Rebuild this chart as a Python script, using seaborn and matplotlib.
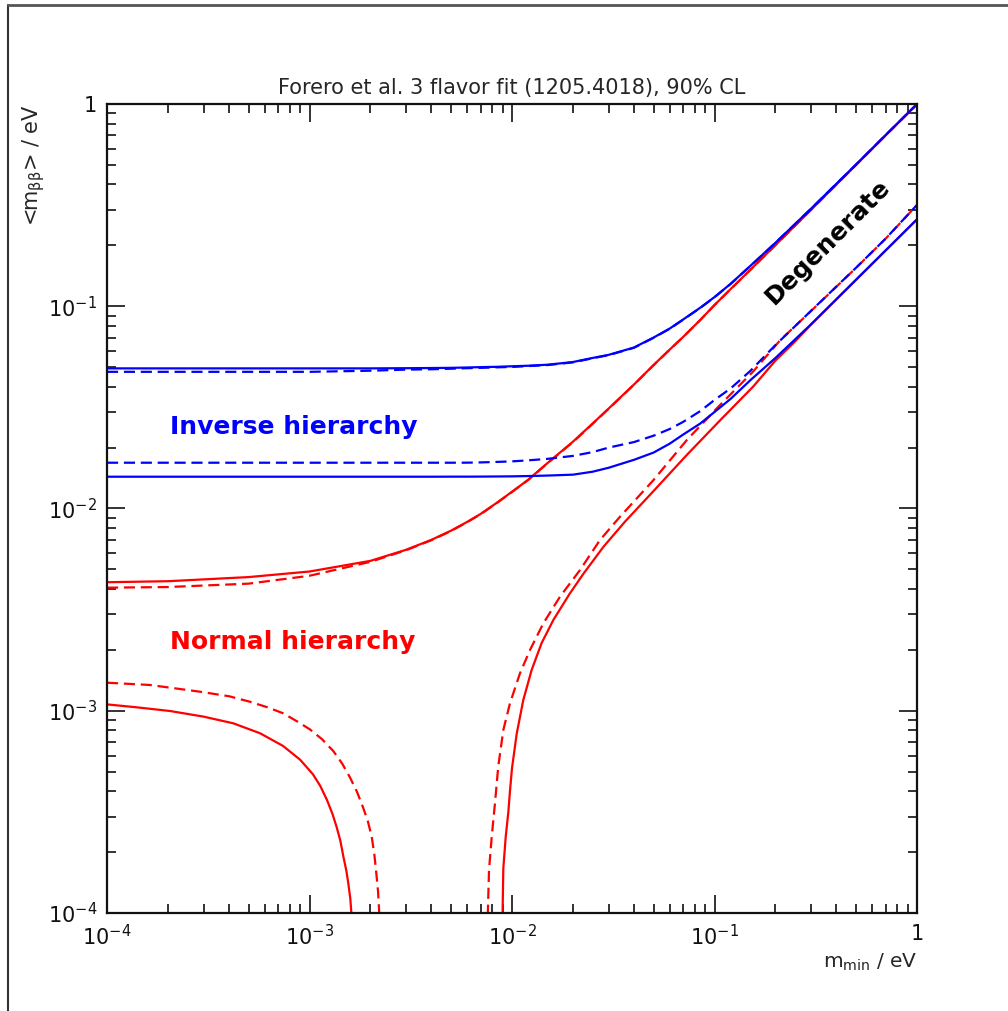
import numpy as np
import pandas as pd
import matplotlib
matplotlib.use("Agg")
import matplotlib.pyplot as plt
from matplotlib.lines import Line2D
from matplotlib.ticker import LogLocator, FuncFormatter, NullFormatter
import seaborn as sns

sns.set_style("white")
plt.rcParams['font.family'] = ['DejaVu Sans']
plt.rcParams['mathtext.default'] = 'regular'

# lightest neutrino mass grid (eV) used by the hierarchy envelopes
m_grid = [1e-4, 2e-4, 5e-4, 1e-3, 2e-3, 3e-3, 4e-3, 5e-3, 6e-3, 7e-3, 8.5e-3, 1e-2, 1.2e-2, 1.5e-2,
          2e-2, 2.5e-2, 3e-2, 4e-2, 5e-2, 6e-2, 7e-2, 8.5e-2, 0.1, 0.12, 0.15, 0.2, 0.3, 0.5, 0.7, 1.0]

# inverse hierarchy, upper / lower edge (solid and dashed)
ih_max_solid = [0.0493, 0.0493, 0.0493, 0.0493, 0.0493, 0.0494, 0.0495, 0.0496, 0.0498, 0.0500, 0.0502,
                0.0505, 0.0508, 0.0514, 0.0530, 0.0555, 0.0575, 0.0625, 0.0700, 0.0775, 0.0860, 0.0983,
                0.111, 0.129, 0.158, 0.206, 0.304, 0.502, 0.702, 1.0]
ih_max_dash = [0.0474, 0.0474, 0.0474, 0.0474, 0.0480, 0.0486, 0.0488, 0.0491, 0.0494, 0.0496, 0.0499,
               0.0501, 0.0506, 0.0512, 0.0528, 0.0553, 0.0573, 0.0623, 0.0698, 0.0773, 0.0858, 0.0981,
               0.1108, 0.1288, 0.1578, 0.2058, 0.3038, 0.5018, 0.7018, 0.998]
ih_min_solid = [0.01436, 0.01436, 0.01436, 0.01436, 0.01436, 0.01436, 0.01436, 0.01437, 0.01437, 0.01438,
                0.0144, 0.01442, 0.01447, 0.01455, 0.0147, 0.0152, 0.0159, 0.0174, 0.0189, 0.0209, 0.0232,
                0.0263, 0.0300, 0.0348, 0.0430, 0.0555, 0.0815, 0.1353, 0.1889, 0.2691]
ih_min_dash = [0.01684, 0.01684, 0.01684, 0.01684, 0.01684, 0.01684, 0.01684, 0.01684, 0.01685, 0.0169,
               0.0170, 0.0171, 0.0173, 0.0176, 0.0182, 0.0190, 0.0200, 0.0213, 0.0229, 0.0247, 0.0268,
               0.0303, 0.0344, 0.0392, 0.0478, 0.0643, 0.095, 0.155, 0.216, 0.317]

# normal hierarchy, upper edge
nh_max_solid = [0.00432, 0.00437, 0.00458, 0.00488, 0.00551, 0.00625, 0.00700, 0.00777, 0.00858, 0.00940,
                0.01075, 0.0121, 0.01385, 0.0168, 0.0214, 0.0263, 0.0312, 0.0410, 0.0512, 0.0610, 0.0705,
                0.0855, 0.1014, 0.1215, 0.1511, 0.2008, 0.300, 0.500, 0.700, 0.998]
nh_max_dash = [0.00406, 0.00409, 0.00425, 0.00465, 0.00545, 0.00622, 0.00697, 0.00774, 0.00855, 0.00937,
               0.01072, 0.01207, 0.01382, 0.01677, 0.0213, 0.0262, 0.0311, 0.0409, 0.0511, 0.0609, 0.0704,
               0.0854, 0.1013, 0.1213, 0.151, 0.2006, 0.2998, 0.4998, 0.6998, 0.997]

# normal hierarchy, lower edge: left branch (falls to zero) and right branch (rises)
nh_min_solid_lo_m = [1e-4, 1.4e-4, 2.05e-4, 3e-4, 4.2e-4, 5.7e-4, 7.4e-4, 9e-4, 1.04e-3, 1.13e-3, 1.22e-3,
                     1.3e-3, 1.36e-3, 1.42e-3, 1.47e-3, 1.52e-3, 1.555e-3, 1.59e-3, 1.61e-3, 1.625e-3]
nh_min_solid_lo = [0.001075, 0.00104, 0.000997, 0.000935, 0.000867, 0.000774, 0.00067, 0.000572, 0.000485,
                   0.000425, 0.000362, 0.000308, 0.000267, 0.000228, 0.00019, 0.000162, 0.00014, 0.000118,
                   0.0001, 0.00008]
nh_min_solid_hi_m = [8.95e-3, 9.06e-3, 9.31e-3, 9.59e-3, 9.77e-3, 1.0e-2, 1.055e-2, 1.137e-2, 1.25e-2, 1.40e-2,
                     1.60e-2, 1.93e-2, 2.25e-2, 2.83e-2, 3.61e-2, 5.0e-2, 7.3e-2, 0.107, 0.155, 0.2, 0.245,
                     0.3, 0.5, 0.7, 1.0]
nh_min_solid_hi = [0.00008, 0.000166, 0.000238, 0.000315, 0.00040, 0.00052, 0.00077, 0.00113, 0.00159, 0.00216,
                   0.00281, 0.0038, 0.00475, 0.00647, 0.0086, 0.0122, 0.0184, 0.0274, 0.0400, 0.0539, 0.0656,
                   0.0812, 0.1350, 0.1886, 0.2688]
nh_min_dash_lo_m = [1e-4, 1.63e-4, 2.88e-4, 4e-4, 5.08e-4, 6.2e-4, 7.42e-4, 8.7e-4, 1.006e-3, 1.15e-3,
                    1.311e-3, 1.45e-3, 1.585e-3, 1.72e-3, 1.844e-3, 1.94e-3, 2.029e-3, 2.09e-3, 2.13e-3,
                    2.18e-3, 2.21e-3, 2.235e-3]
nh_min_dash_lo = [0.001376, 0.001341, 0.001242, 0.00118, 0.001108, 0.00104, 0.000971, 0.000885, 0.000808,
                  0.000725, 0.000632, 0.000548, 0.000468, 0.000395, 0.00033, 0.000285, 0.000238, 0.000195,
                  0.000163, 0.000128, 0.0001, 0.00008]
nh_min_dash_hi_m = [7.55e-3, 7.70e-3, 7.94e-3, 8.24e-3, 8.55e-3, 9.06e-3, 9.77e-3, 1.095e-2, 1.227e-2, 1.428e-2,
                    1.726e-2, 2.167e-2, 2.72e-2, 3.416e-2, 5.0e-2, 7.3e-2, 0.1065, 0.155, 0.2107, 0.3, 0.5,
                    0.7, 1.0]
nh_min_dash_hi = [0.00008, 0.000163, 0.000238, 0.000349, 0.000529, 0.000803, 0.001088, 0.001532, 0.001997,
                  0.002706, 0.003664, 0.004965, 0.006986, 0.00911, 0.01383, 0.0218, 0.0325, 0.0475, 0.0678,
                  0.0948, 0.1548, 0.2158, 0.3165]

RED, BLUE = '#ff0000', '#0000ff'
DASH = (0, (5, 2.6))

# drawing order: red (normal) first, blue (inverse) on top
curves = [
    (nh_min_solid_lo_m, nh_min_solid_lo, RED, '-'),
    (nh_min_dash_lo_m, nh_min_dash_lo, RED, DASH),
    (nh_min_solid_hi_m, nh_min_solid_hi, RED, '-'),
    (nh_min_dash_hi_m, nh_min_dash_hi, RED, DASH),
    (m_grid, nh_max_solid, RED, '-'),
    (m_grid, nh_max_dash, RED, DASH),
    (m_grid, ih_min_solid, BLUE, '-'),
    (m_grid, ih_min_dash, BLUE, DASH),
    (m_grid, ih_max_solid, BLUE, '-'),
    (m_grid, ih_max_dash, BLUE, DASH),
]

fig = plt.figure(figsize=(10.08, 10.11), dpi=100)
ax = fig.add_axes([107 / 1008, 98 / 1011, 810 / 1008, 809 / 1011])
ax.set_xscale('log')
ax.set_yscale('log')

for mx, my, col, ls in curves:
    df = pd.DataFrame({'m_min': mx, 'm_bb': my})
    sns.lineplot(data=df, x='m_min', y='m_bb', ax=ax, color=col, linestyle=ls,
                 linewidth=1.6, sort=False, estimator=None)

ax.set_xlim(1e-4, 1)
ax.set_ylim(1e-4, 1)

def dec_fmt(v, pos):
    if abs(v - 1) < 1e-9:
        return "1"
    return r"$10^{%d}$" % int(round(np.log10(v)))

for axis in (ax.xaxis, ax.yaxis):
    axis.set_major_locator(LogLocator(base=10, numticks=10))
    axis.set_minor_locator(LogLocator(base=10, subs=np.arange(2, 10), numticks=20))
    axis.set_major_formatter(FuncFormatter(dec_fmt))
    axis.set_minor_formatter(NullFormatter())

ax.tick_params(which='both', direction='in', bottom=True, left=True, top=True, right=True,
               colors='#111')
ax.tick_params(which='major', length=13, width=1.2, labelsize=15)
ax.tick_params(axis='x', which='major', pad=8)
ax.tick_params(axis='y', which='major', pad=7)
ax.tick_params(which='minor', length=6.5, width=1.2)
for s in ax.spines.values():
    s.set_linewidth(1.6)
    s.set_color('#111')

ax.set_title("Forero et al. 3 flavor fit (1205.4018), 90% CL", fontsize=15, pad=7)
ax.set_xlabel("m$_{min}$ / eV", fontsize=14.5, loc='right')
ax.xaxis.set_label_coords(1.0, -0.048)
ax.set_ylabel(r"<m$_{\beta\beta}$> / eV", fontsize=15, loc='top')
ax.yaxis.set_label_coords(-0.074, 1.0)

ax.text(0.078, 0.592, "Inverse hierarchy", transform=ax.transAxes, color=BLUE,
        fontsize=18, fontweight='bold', ha='left', va='baseline')
ax.text(0.078, 0.326, "Normal hierarchy", transform=ax.transAxes, color=RED,
        fontsize=18, fontweight='bold', ha='left', va='baseline')
ax.text(0.890, 0.829, "Degenerate", transform=ax.transAxes, color='black',
        fontsize=18, fontweight='bold', ha='center', va='center', rotation=45)

# outer frame of the original page
fig.add_artist(Line2D([8 / 1008, 8 / 1008], [0, 1 - 5 / 1011], transform=fig.transFigure,
                      color='#333', lw=1.5))
fig.add_artist(Line2D([8 / 1008, 1], [1 - 5 / 1011, 1 - 5 / 1011], transform=fig.transFigure,
                      color='#555', lw=2))

fig.savefig("out.png", dpi=100)
